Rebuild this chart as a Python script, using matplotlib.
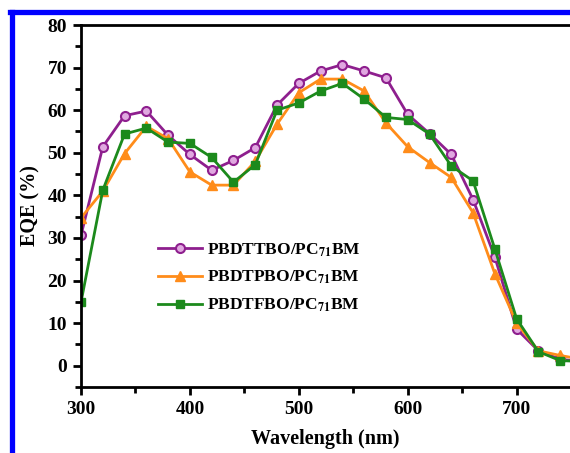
#!/usr/bin/env python3

import matplotlib.pyplot as plt
from matplotlib.lines import Line2D
from matplotlib.ticker import MultipleLocator

plt.rcParams['font.family'] = 'Liberation Serif'
plt.rcParams['font.weight'] = 'bold'
plt.rcParams['mathtext.fontset'] = 'stix'

# EQE spectra (%)
wavelength = [300, 320, 340, 360, 380, 400, 420, 440, 460, 480, 500, 520,
              540, 560, 580, 600, 620, 640, 660, 680, 700, 720, 740, 760]
eqe_ttbo = [30.6, 51.4, 58.7, 59.8, 54.1, 49.6, 45.9, 48.2, 51.2, 61.2, 66.3, 69.2,
            70.7, 69.2, 67.6, 59.0, 54.5, 49.6, 39.0, 25.5, 8.6, 3.5, 1.5, 1.0]
eqe_tpbo = [34.7, 41.0, 49.8, 56.2, 53.3, 45.5, 42.4, 42.4, 48.0, 56.7, 64.1, 67.3,
            67.3, 64.5, 57.0, 51.4, 47.7, 44.2, 35.9, 21.6, 10.0, 3.5, 2.4, 1.5]
eqe_tfbo = [14.9, 41.2, 54.4, 55.8, 52.5, 52.2, 48.9, 43.1, 47.2, 60.0, 61.7, 64.5,
            66.3, 62.6, 58.3, 57.8, 54.4, 46.9, 43.4, 27.4, 11.0, 3.3, 1.2, 1.0]
labels = [r'PBDTTBO/PC$_{\mathbf{71}}$BM', r'PBDTPBO/PC$_{\mathbf{71}}$BM',
          r'PBDTFBO/PC$_{\mathbf{71}}$BM']

fig = plt.figure(figsize=(5.70, 4.53), dpi=100)
ax = fig.add_axes([81 / 570, 1 - 387 / 453, 1 - 81 / 570, (387 - 25) / 453])

ax.plot(wavelength, eqe_ttbo, '-o', color='#8e1f8e', lw=2, ms=6.5,
        mfc='#e0a8e0', mec='#8e1f8e', mew=1.5, label=labels[0])
ax.plot(wavelength, eqe_tpbo, '-^', color='#ff8c1a', lw=2, ms=6.5,
        mfc='#ff8c1a', mec='#ff8c1a', label=labels[1])
ax.plot(wavelength, eqe_tfbo, '-s', color='#1c8a1c', lw=2, ms=6,
        mfc='#1c8a1c', mec='#1c8a1c', label=labels[2])

ax.set_xlim(300, 749)
ax.set_ylim(-5, 80)
ax.xaxis.set_major_locator(MultipleLocator(100))
ax.xaxis.set_minor_locator(MultipleLocator(50))
ax.yaxis.set_major_locator(MultipleLocator(10))
ax.yaxis.set_minor_locator(MultipleLocator(5))
ax.tick_params(which='major', direction='out', length=6, width=2, labelsize=14, pad=4)
ax.tick_params(which='minor', direction='out', length=4, width=2)
for side in ['left', 'bottom', 'top']:
    ax.spines[side].set_linewidth(2)
ax.spines['right'].set_visible(False)
for lab in ax.get_xticklabels() + ax.get_yticklabels():
    lab.set_fontweight('bold')

ax.set_xlabel('Wavelength (nm)', fontsize=14.5, fontweight='bold', labelpad=8)
ax.set_ylabel('EQE (%)', fontsize=14.5, fontweight='bold', labelpad=5)

leg = ax.legend(loc='center left', bbox_to_anchor=(0.158, 0.302), frameon=False,
                handlelength=2.5, handletextpad=0.3, labelspacing=0.6,
                borderpad=0, borderaxespad=0,
                prop={'weight': 'bold', 'size': 12.5})

# blue frame around the figure
fig.add_artist(Line2D([12 / 570, 12 / 570], [0, 1 - 12 / 453], color='#0000ff',
                      lw=3.8, transform=fig.transFigure))
fig.add_artist(Line2D([10 / 570, 1], [1 - 12 / 453, 1 - 12 / 453], color='#0000ff',
                      lw=3.8, transform=fig.transFigure))

plt.savefig('out.png', dpi=100)
plt.close()
